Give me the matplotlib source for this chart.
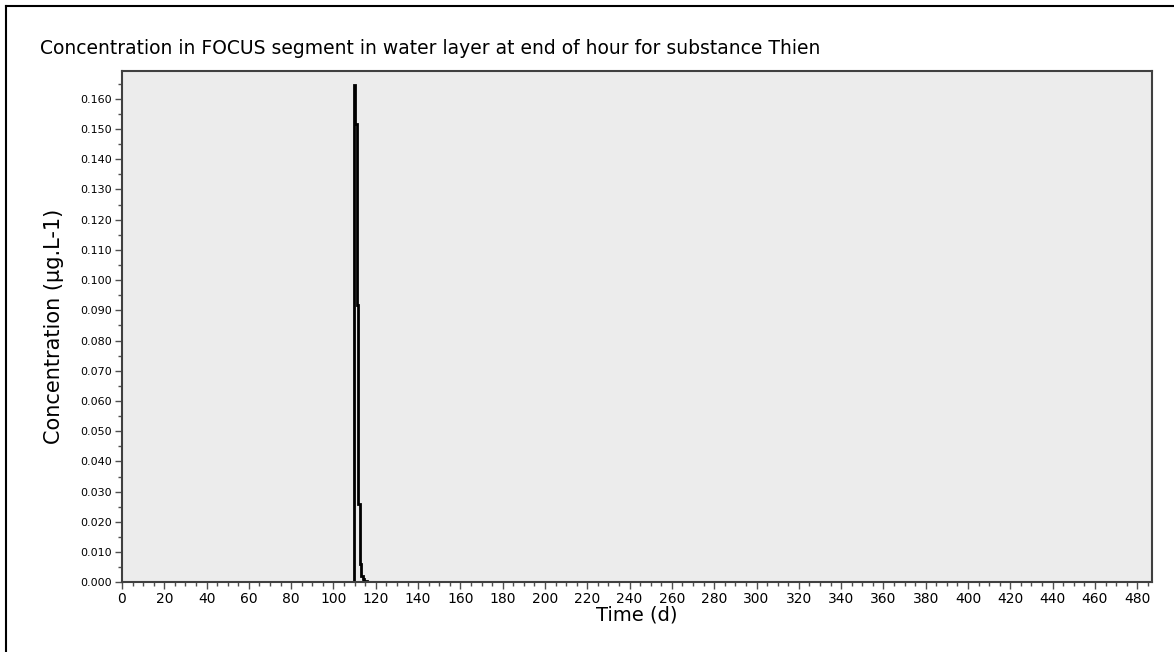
import numpy as np
import matplotlib.pyplot as plt
from matplotlib.lines import Line2D
from matplotlib.ticker import MultipleLocator, FormatStrFormatter

plt.rcParams['font.family'] = ['DejaVu Sans']

# hourly concentration series, simplified to the step changes visible in the picture
time_d = [0, 109.7, 110.4, 111.1, 111.8, 112.5, 113.2, 113.9, 114.6, 115.8, 487]
conc = [0.0, 0.1646, 0.1517, 0.0916, 0.0258, 0.0062, 0.0022, 0.0010, 0.0004, 0.0, 0.0]

title = 'Concentration in FOCUS segment in water layer at end of hour for substance Thien'
xlabel = 'Time (d)'
ylabel = 'Concentration (µg.L-1)'

fig = plt.figure(figsize=(11.74, 6.52), dpi=100)
ax = fig.add_axes([0.1039, 0.1069, 0.8774, 0.7842])
ax.set_facecolor('#ececec')

ax.step(time_d, conc, where='post', color='black', lw=2.0, solid_joinstyle='miter')

ax.set_xlim(0, 487)
ax.set_ylim(0, 0.1692)

ax.xaxis.set_major_locator(MultipleLocator(20))
ax.xaxis.set_minor_locator(MultipleLocator(5))
ax.yaxis.set_major_locator(MultipleLocator(0.01))
ax.yaxis.set_minor_locator(MultipleLocator(0.005))
ax.yaxis.set_major_formatter(FormatStrFormatter('%.3f'))

ax.tick_params(which='major', length=5, width=1, color='#505050', labelsize=8, pad=2)
ax.tick_params(axis='x', which='major', labelsize=10)
ax.tick_params(which='minor', length=3, width=1, color='#505050')

for s in ax.spines.values():
    s.set_color('#404040')
    s.set_linewidth(1.5)

ax.set_xlabel(xlabel, fontsize=14)
ax.set_ylabel(ylabel, fontsize=15)
ax.xaxis.set_label_coords(0.5, -0.046)
ax.yaxis.set_label_coords(-0.056, 0.5)
fig.text(40 / 1174, 1 - 48 / 652, title, fontsize=13.5, ha='left', va='center')

# outer frame on left and top edges
fig.add_artist(Line2D([6 / 1174, 6 / 1174], [0, 1 - 6 / 652], color='black', lw=1.5, transform=fig.transFigure))
fig.add_artist(Line2D([6 / 1174, 1], [1 - 6 / 652, 1 - 6 / 652], color='black', lw=1.5, transform=fig.transFigure))

fig.savefig('out.png', dpi=100)
